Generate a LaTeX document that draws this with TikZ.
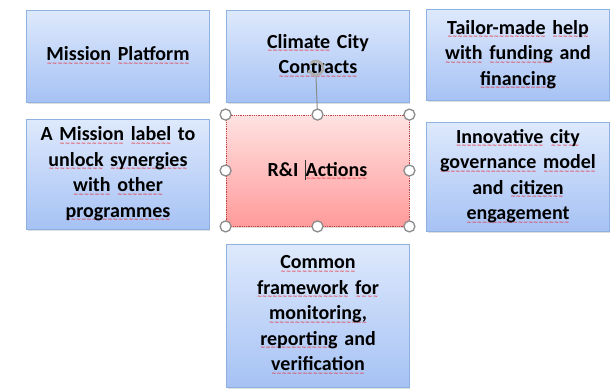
\documentclass[tikz,border=0pt]{standalone}
\usepackage{fontspec}
\setmainfont[WordSpace=0.85]{Carlito}
\newfontfamily\wavefont{DejaVu Sans}
\usetikzlibrary{shadows,arrows.meta}

\definecolor{bluetop}{HTML}{DEE9FC}
\definecolor{bluebot}{HTML}{A6C2F4}
\definecolor{blueline}{HTML}{8DB2E2}
\definecolor{redtop}{HTML}{FFE2E2}
\definecolor{redbot}{HTML}{FF9B9B}
\definecolor{gripgray}{HTML}{8C8C8C}
\definecolor{spell}{HTML}{E8303A}

% red wavy spelling underline
\newcommand\sq[1]{\leavevmode\setbox0\hbox{#1}\rlap{\raisebox{-4.5pt}{\color{spell}\wavefont\fontsize{6}{6}\selectfont
  \hbox to\wd0{\xleaders\hbox{\char"223C}\hfil}}}\box0\relax}

\begin{document}
\begin{tikzpicture}[x=1pt,y=-1pt,
  box/.style={draw=blueline, line width=0.8pt, shading=axis, top color=bluetop, bottom color=bluebot,
    drop shadow={opacity=0.25, shadow xshift=1pt, shadow yshift=-1.5pt},
    minimum width=182pt, text width=176pt, align=center,
    font=\bfseries\fontsize{20}{25.5}\selectfont},
  selbox/.style={box, drop shadow={opacity=0}, draw=red!50!gray, densely dotted, top color=redtop, bottom color=redbot},
  grip/.style={draw=gripgray, line width=1.3pt, fill=white}]
\useasboundingbox (0,0) rectangle (613,389);

\node[box, minimum height=92pt] (plat) at (118,56) {\sq{Mission} \sq{Platform}};
\node[box, minimum height=92pt] (contr) at (318,56) {\sq{Climate} City\\\sq{Contracts}};
\node[box, minimum height=91pt] (tailor) at (518,55) {\sq{Tailor-made} \sq{help}\\\sq{with} \sq{funding} and\\\sq{financing}};
\node[box, minimum height=110pt] (label) at (118,174) {A \sq{Mission} \sq{label} to\\\sq{unlock} \sq{synergies}\\\sq{with} \sq{other}\\\sq{programmes}};
\node[box, minimum height=109pt] (gov) at (518,176.5) {\sq{Innovative} \sq{city}\\\sq{governance} \sq{model}\\and \sq{citizen}\\\sq{engagement}};
\node[box, minimum height=143pt] (common) at (318,315.5) {\sq{Common}\\\sq{framework} \sq{for}\\\sq{monitoring,}\\\sq{reporting} and\\\sq{verification}};

\node[selbox, minimum width=183pt, minimum height=111pt] (ri) at (317.5,170.5)
  {R\&I {\color{black!80}\rule[-4pt]{0.7pt}{20pt}}\sq{Actions}};

% selection handles
\coordinate (rot) at (316,68);
\draw[gripgray, line width=1pt] (ri.north) -- (316,76);
\draw[gripgray!70, line width=2.6pt, -{Stealth[length=4pt,width=6pt]}] (rot) ++(140:7pt) arc (140:-170:7pt);
\foreach \a in {north west,north,north east,west,east,south west,south,south east}
  \draw[grip] (ri.\a) circle (5.5pt);
\end{tikzpicture}
\end{document}
